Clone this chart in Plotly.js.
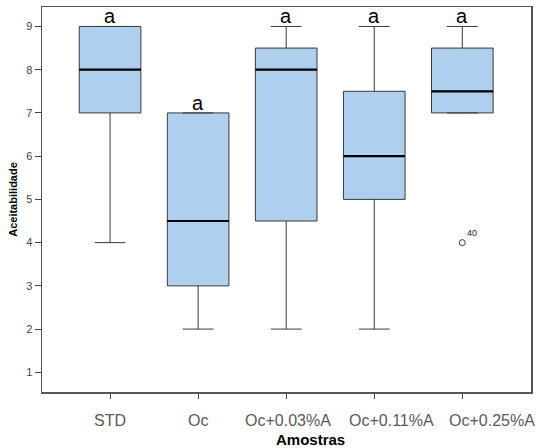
<!DOCTYPE html>
<html>
<head>
<meta charset="utf-8">
<script src="https://cdn.plot.ly/plotly-3.0.1.min.js"></script>
<style>
  html, body { margin: 0; padding: 0; background: #fff; }
  #chart { width: 537px; height: 448px; }
</style>
</head>
<body>
<div id="chart"></div>
<script>
// Acceptability scores per sample (five-number summaries)
const categories = ['STD', 'Oc', 'Oc+0.03%A', 'Oc+0.11%A', 'Oc+0.25%A'];
const lowerWhisker = [4, 2, 2, 2, 7];
const q1 = [7, 3, 4.5, 5, 7];
const median = [8, 4.5, 8, 6, 7.5];
const q3 = [9, 7, 8.5, 7.5, 8.5];
const upperWhisker = [9, 7, 9, 9, 9];
const groupLetters = ['a', 'a', 'a', 'a', 'a'];

// Outlying case
const outlierGroup = ['Oc+0.25%A'];
const outlierValue = [4];
const outlierCase = ['40'];

const idx = categories.map((_, i) => i);
const boxWidth = 0.7;

// Category labels are nudged right so the long ones don't collide (pixels)
const labelNudge = [0, 0, 2, 17, 30];

const FONT = 'Liberation Sans, Arial, sans-serif';
const traces = [];

traces.push({
  type: 'box',
  x: idx,
  q1: q1,
  median: median,
  q3: q3,
  lowerfence: lowerWhisker,
  upperfence: upperWhisker,
  width: boxWidth,
  whiskerwidth: 0.5,
  boxpoints: false,
  fillcolor: '#aecfee',
  line: { color: '#3a3a3a', width: 1 },
  hoverinfo: 'skip',
  showlegend: false
});

// Bold median bars drawn over each box
const mx = [], my = [];
idx.forEach(i => {
  mx.push(i - boxWidth / 2, i + boxWidth / 2, null);
  my.push(median[i], median[i], null);
});
traces.push({
  type: 'scatter',
  mode: 'lines',
  x: mx,
  y: my,
  line: { color: '#000', width: 2.2 },
  hoverinfo: 'skip',
  showlegend: false
});

traces.push({
  type: 'scatter',
  mode: 'markers+text',
  x: outlierGroup.map(g => categories.indexOf(g)),
  y: outlierValue,
  text: outlierCase,
  textposition: 'top right',
  textfont: { family: FONT, size: 9, color: '#222' },
  marker: { symbol: 'circle-open', size: 6, color: '#333', line: { width: 1 } },
  hoverinfo: 'skip',
  showlegend: false
});

// Significance letters above each upper whisker
const annotations = idx.map(i => ({
  x: i,
  y: upperWhisker[i],
  xref: 'x',
  yref: 'y',
  text: groupLetters[i],
  showarrow: false,
  yanchor: 'bottom',
  yshift: -3,
  font: { family: FONT, size: 20, color: '#000' }
}));

// Category labels under the axis
idx.forEach(i => {
  annotations.push({
    x: i,
    y: 0,
    xref: 'x',
    yref: 'paper',
    text: categories[i],
    showarrow: false,
    yanchor: 'top',
    xshift: labelNudge[i],
    yshift: -18,
    font: { family: FONT, size: 16, color: '#5a5a5a' }
  });
});

// Axis title
annotations.push({
  x: 0.55,
  y: 0,
  xref: 'paper',
  yref: 'paper',
  text: '<b>Amostras</b>',
  showarrow: false,
  yanchor: 'top',
  yshift: -37,
  font: { family: FONT, size: 15, color: '#000' }
});

const layout = {
  width: 537,
  height: 448,
  margin: { l: 42, r: 6, t: 7, b: 56 },
  paper_bgcolor: '#fff',
  plot_bgcolor: '#fff',
  font: { family: FONT },
  xaxis: {
    range: [-0.773, 4.78],
    tickvals: idx,
    showticklabels: false,
    ticks: 'outside',
    ticklen: 5,
    tickcolor: '#444',
    showgrid: false,
    zeroline: false,
    showline: true,
    linecolor: '#555',
    linewidth: 1.5,
    mirror: true
  },
  yaxis: {
    range: [0.545, 9.45],
    tickvals: [1, 2, 3, 4, 5, 6, 7, 8, 9],
    tickfont: { size: 11, color: '#444' },
    ticks: 'outside',
    ticklen: 6,
    tickcolor: '#444',
    showgrid: false,
    zeroline: false,
    showline: true,
    linecolor: '#555',
    linewidth: 1.5,
    mirror: true,
    title: { text: 'Aceitabilidade', font: { size: 11, color: '#000', weight: 'bold' }, standoff: 6 }
  },
  annotations: annotations
};

Plotly.newPlot('chart', traces, layout, { displayModeBar: false, staticPlot: true });
</script>
</body>
</html>
